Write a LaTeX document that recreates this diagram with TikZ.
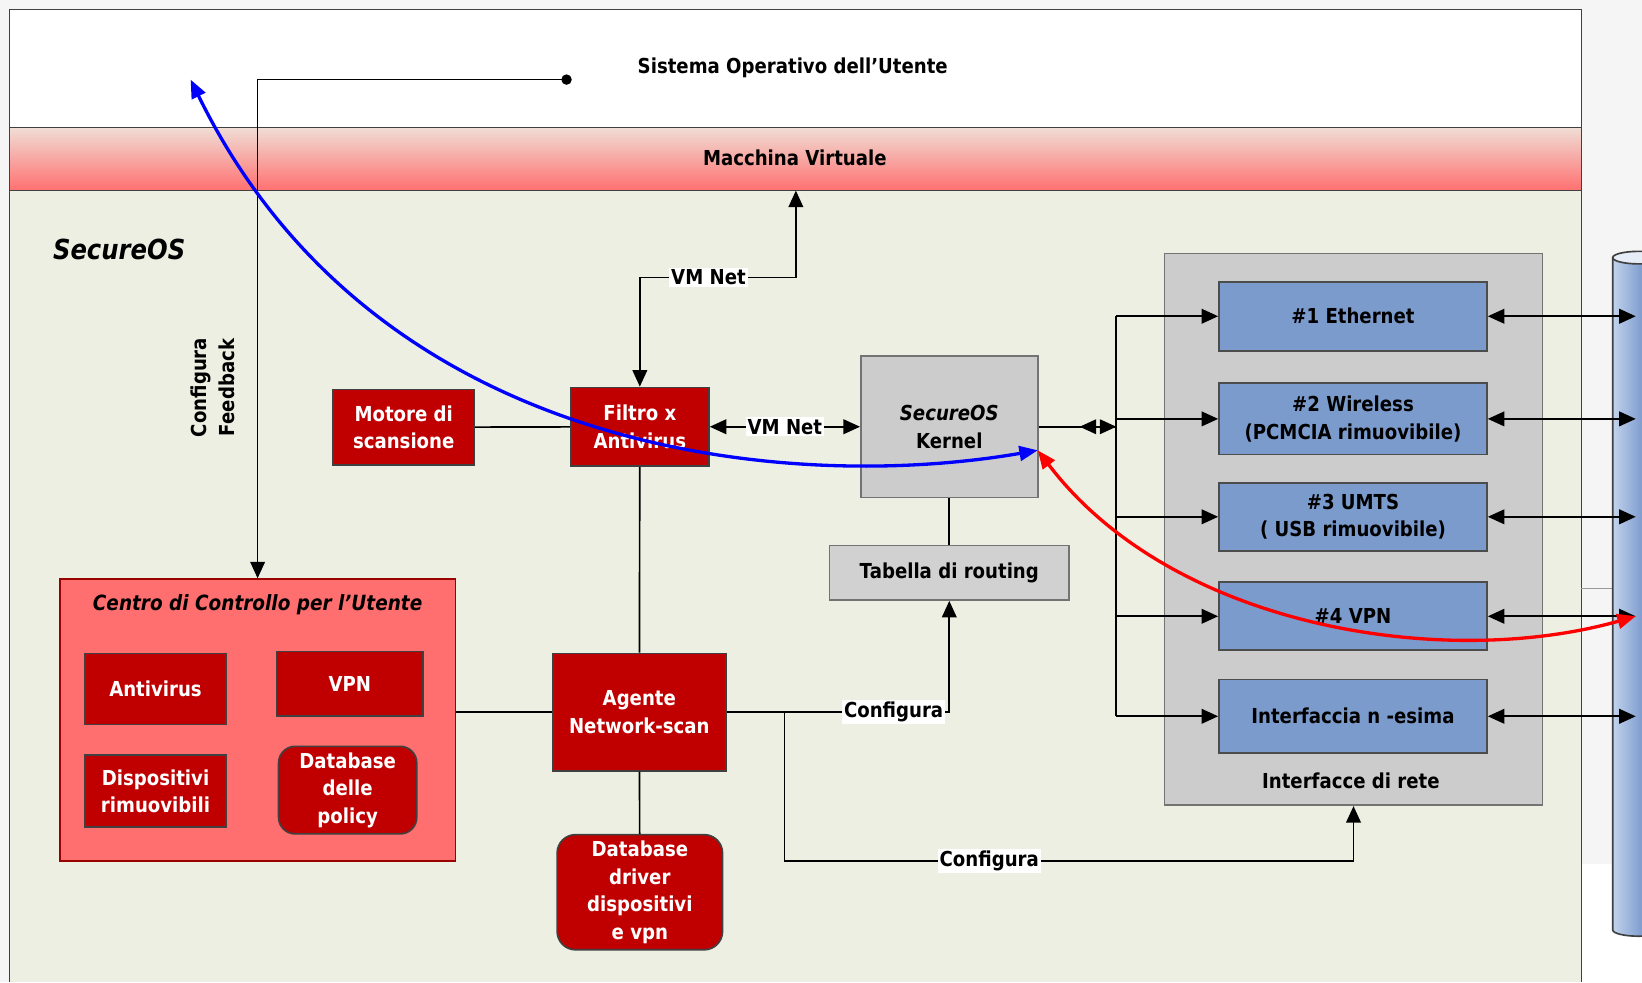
\documentclass[tikz,border=0pt]{standalone}
\usepackage{fontspec}
\setmainfont{DejaVu Sans}[FakeStretch=0.88]
\usepackage{tikz}
\usetikzlibrary{%
  arrows.meta,%
  calc%
}
\definecolor{fondo}{HTML}{EEEFE3}
\definecolor{vmalto}{HTML}{F0DDD5}
\definecolor{vmbasso}{HTML}{FF7070}
\definecolor{rossoscuro}{HTML}{C00000}
\definecolor{salmone}{HTML}{FF6F6F}
\definecolor{grigiobox}{HTML}{CCCCCC}
\definecolor{bluif}{HTML}{7B9BCC}
\definecolor{cilchiaro}{HTML}{C2D3EC}
\definecolor{cilscuro}{HTML}{4A72B8}

\begin{document}
\begin{tikzpicture}[x=0.02cm,y=-0.02cm,line width=.9pt,
  >={Triangle[length=9pt,width=8pt]},
  font=\fontsize{11.2}{15}\selectfont\bfseries,
  rosso/.style={draw=black!75,fill=rossoscuro,text=white,align=center},
  grigio/.style={draw=black!55,fill=grigiobox,align=center},
  blu/.style={draw=black!70,fill=bluif,align=center,minimum width=5.12cm},
  etich/.style={fill=white,inner sep=1pt}]
\useasboundingbox (0,0) rectangle (1568,938);
\clip (0,0) rectangle (1568,938);
% fondo e fasce
\fill[black!4] (0,0) rectangle (1568,938);
\fill[white] (1510,825) rectangle (1568,938);
\fill[white] (9,9) rectangle (1510,122);
\shade[top color=vmalto,bottom color=vmbasso] (9,122) rectangle (1510,182);
\fill[fondo] (9,182) rectangle (1510,938);
\draw[black!75,line width=.6pt] (9,938) -- (9,9) -- (1510,9) -- (1510,938)
  (9,122) -- (1510,122) (9,182) -- (1510,182);
\draw[black!40,line width=.4pt] (1510,562) -- (1540,562);

\node (sist) at (757,65) {Sistema Operativo dell’Utente};
\node (mv) at (759,151) {Macchina Virtuale};
\node[font=\fontsize{15}{17}\selectfont\bfseries\itshape,anchor=west] (sos) at (44,238) {SecureOS};
\node[rotate=90,align=center] (cfb) at (203,370) {Configura\\Feedback};

\coordinate (pt) at (541,76);
\coordinate (vmg) at (760,265);
\coordinate (vm) at (760,182);
\coordinate (bus) at (1066,407.5);
\coordinate (cyl) at (1562,0);
\coordinate (dr) at (749,680);
\coordinate (cf2) at (1292.5,822);
\coordinate (osu) at (182,76);
\coordinate (kin) at (991,430);

\node[rosso,minimum width=2.7cm,minimum height=1.44cm] (mot) at (385.5,408) {Motore di\\scansione};
\node[rosso,minimum width=2.64cm,minimum height=1.5cm] (fil) at (611,407.5) {Filtro x\\Antivirus};
\node[grigio,minimum width=3.38cm,minimum height=2.7cm] (ker) at (906.5,407.5) {\textit{SecureOS}\\Kernel};
\node[grigio,fill=grigiobox!90!white,minimum width=4.58cm,minimum height=1.04cm] (tab) at (906.5,547) {Tabella di routing};

\node[grigio,minimum width=7.22cm,minimum height=10.54cm] (ifc) at (1292.5,505.5) {};
\node (ifl) at (1290,746) {Interfacce di rete};
\node[blu,minimum height=1.32cm] (e1) at (1292,302) {\#1 Ethernet};
\node[blu,minimum height=1.36cm] (e2) at (1292,400) {\#2 Wireless\\(PCMCIA rimuovibile)};
\node[blu,minimum height=1.3cm] (e3) at (1292,493.5) {\#3 UMTS\\( USB rimuovibile)};
\node[blu,minimum height=1.3cm] (e4) at (1292,588.5) {\#4 VPN};
\node[blu,minimum height=1.4cm] (en) at (1292,684) {Interfaccia n -esima};

\node[draw=red!60!black,fill=salmone,minimum width=7.56cm,minimum height=5.38cm] (cen) at (246,687.5) {};
\node[font=\fontsize{11.4}{15}\selectfont\bfseries\itshape] (cent) at (246,577) {Centro di Controllo per l’Utente};
\node[rosso,minimum width=2.7cm,minimum height=1.36cm] (av) at (148.5,658) {Antivirus};
\node[rosso,minimum width=2.8cm,minimum height=1.24cm] (vpn) at (334,653) {VPN};
\node[rosso,minimum width=2.7cm,minimum height=1.38cm] (dis) at (148.5,755.5) {Dispositivi\\rimuovibili};
\node[rosso,rounded corners=9pt,minimum width=2.64cm,minimum height=1.62cm] (dbp) at (332,754.5) {Database\\delle\\policy};
\node[rosso,minimum width=3.3cm,minimum height=2.24cm] (age) at (610.5,680) {Agente\\Network-scan};
\node[rosso,rounded corners=10pt,minimum width=3.16cm,minimum height=2.2cm] (dbd) at (611,852) {Database\\driver\\dispositivi\\e vpn};

% cilindro della rete
\shade[left color=cilchiaro,right color=cilscuro] (1540,246) rectangle (1590,888);
\shade[left color=cilchiaro,right color=cilscuro] (1565,888) ellipse (25 and 6);
\draw[black!75] (1540,246) -- (1540,888) arc[start angle=180,end angle=0,x radius=25,y radius=6];
\filldraw[fill=cilchiaro!40!white,draw=black!75] (1565,246) ellipse (25 and 6);

\draw (mot) edge (fil)
      (ker) edge (tab)
      (fil) edge (age)
      (age) edge (dbd)
      (cen.east |- age) edge (age)
      (ker) edge (bus)
      (bus |- e1) edge (bus |- en)
;
\fill (pt) circle (5);
\draw[->] (pt) -| (cen.north);
\draw[<->] (fil) -- node[etich]{VM Net} (ker);
\draw[<->] (fil.north) |- node[etich,pos=.72]{VM Net} (vmg) -- (vm);
\draw[<->] ($(bus)+(-35,0)$) -- (bus);
\draw[->] (age) -| node[etich,pos=.375]{Configura} (tab);
\draw[->] (dr) |- node[etich,pos=.68]{Configura} (cf2) -- (ifc);
\path[->] (bus |- e1) edge (e1)
          (bus |- e2) edge (e2)
          (bus |- e3) edge (e3)
          (bus |- e4) edge (e4)
          (bus |- en) edge (en)
;
\path[<->] (e1) edge (e1 -| cyl)
           (e2) edge (e2 -| cyl)
           (e3) edge (e3 -| cyl)
           (e4) edge (e4 -| cyl)
           (en) edge (en -| cyl)
;
\draw[<->,blue,line width=1.8pt,>={Triangle[length=10pt,width=8pt]}] (osu) .. controls (360,440) and (760,470) .. (kin);
\draw[<->,red,line width=1.8pt,>={Triangle[length=10pt,width=8pt]}] (kin) .. controls (1120,600) and (1380,640) .. (e4 -| cyl);
\end{tikzpicture}
\end{document}
